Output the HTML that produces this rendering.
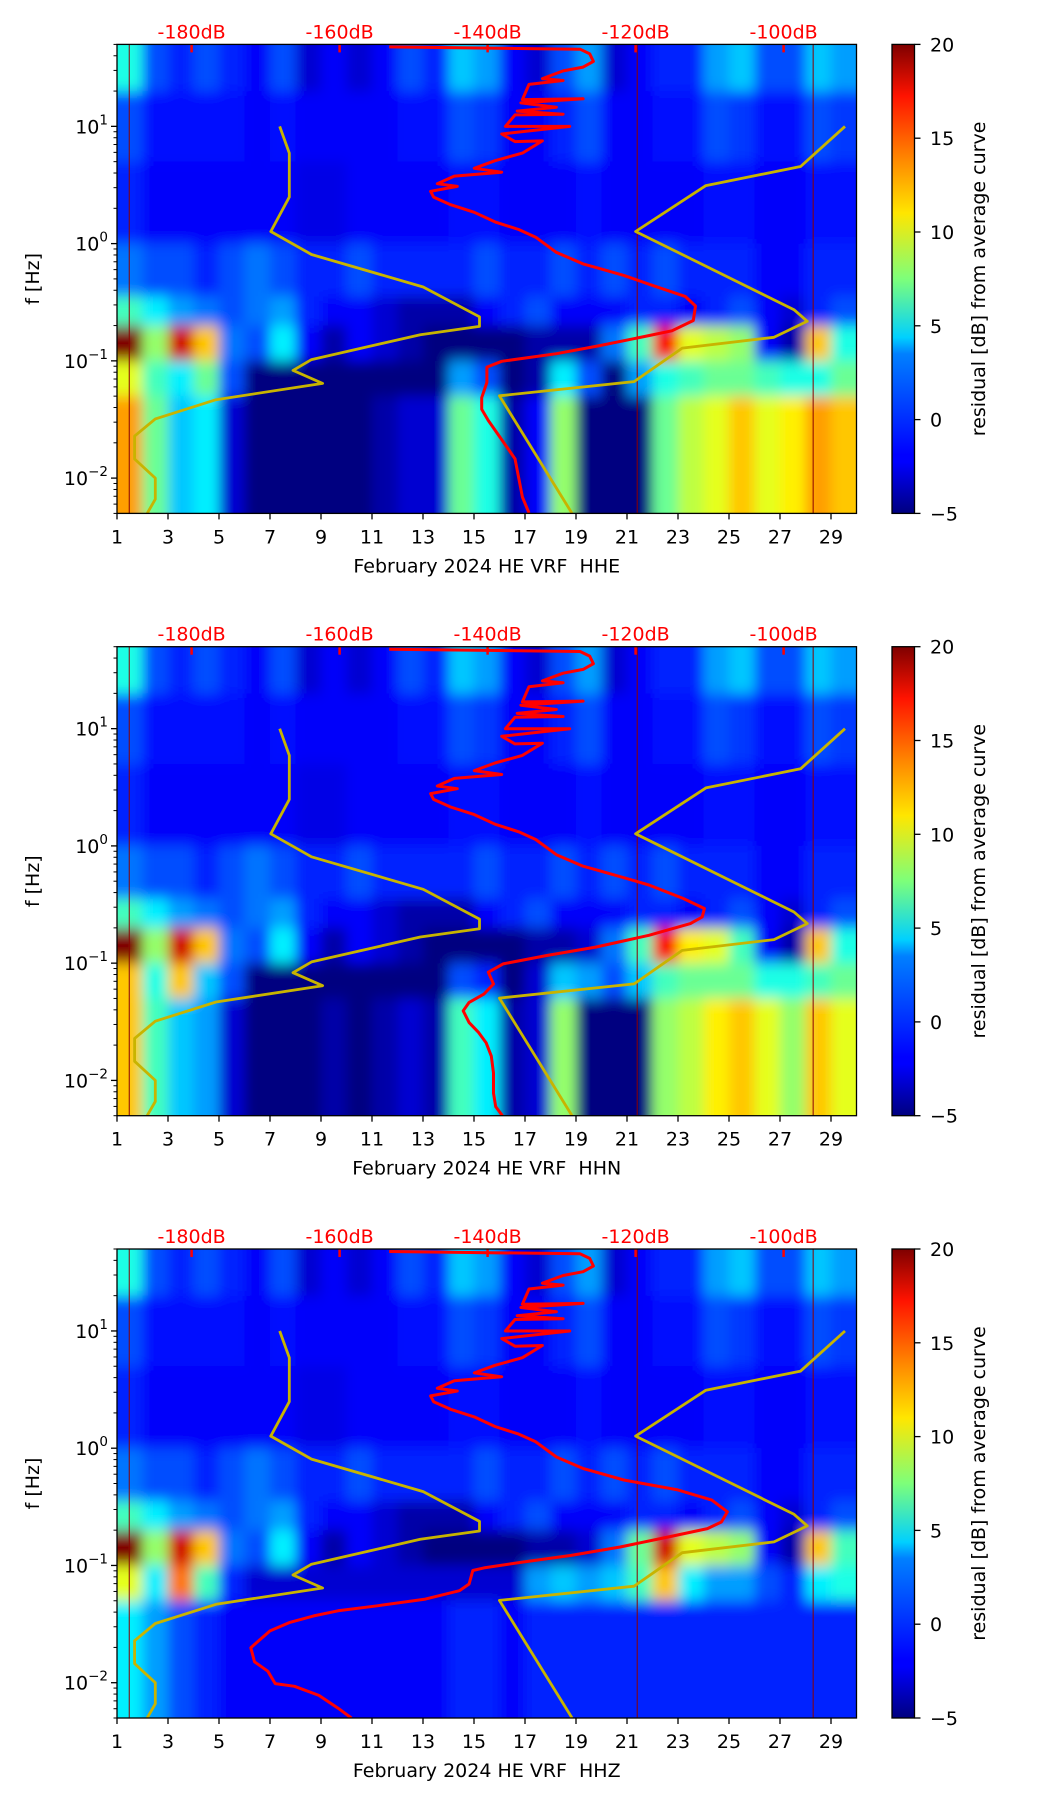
<!DOCTYPE html>
<html><head><meta charset="utf-8"><style>
body{margin:0;background:#fff;}
svg{display:block;font-family:"DejaVu Sans","Liberation Sans",sans-serif;}
</style></head><body>
<svg id="fig" width="1052" height="1806" viewBox="0 0 1052 1806" xmlns="http://www.w3.org/2000/svg">
<defs>
<filter id="blur" x="-5%" y="-5%" width="110%" height="110%"><feGaussianBlur stdDeviation="6 7"/></filter>
<linearGradient id="jetgrad" x1="0" y1="1" x2="0" y2="0">
<stop offset="0" stop-color="#00007f"/><stop offset="0.11" stop-color="#0000ff"/><stop offset="0.125" stop-color="#0000ff"/>
<stop offset="0.34" stop-color="#0080ff"/><stop offset="0.375" stop-color="#00d0ff"/><stop offset="0.5" stop-color="#7dff7a"/>
<stop offset="0.64" stop-color="#ffe600"/><stop offset="0.75" stop-color="#ff8c00"/><stop offset="0.89" stop-color="#ff1300"/><stop offset="1" stop-color="#7f0000"/>
</linearGradient>
</defs>
</svg>
<script>
// ---- shared data ----
const days = [1,2,3,4,5,6,7,8,9,10,11,12,13,14,15,16,17,18,19,20,21,22,23,24,25,26,27,28,29];
const xTicks = [1,3,5,7,9,11,13,15,17,19,21,23,25,27,29];
const dbTicks = [-180,-160,-140,-120,-100];
const cbTicks = [-5,0,5,10,15,20];
const bandEdges = [1.75,1.3,0.7,0.0,-0.45,-0.7,-1.0,-1.3,-2.35];
const b0a = [5,0,-1,0,-1,-2,0,-3,-2,-3,-2,0,-1,3,2,-2,-3,0,2,-3,-2,-1,-1,2,3,0,0,3,2];
const b0b = [0,-1.5,-1.5,-1.5,-1.5,-2,-1.5,-2,-2,-2,-2,-1.5,-1.5,0,-0.5,-2,-2,-1,0,-2,-2,-1.5,-1.5,0,-0.5,-1.5,-1.5,0,-0.5];
const b1 = [-1,-2,-2,-2,-2,-2,-2,-2.5,-2.5,-2,-2,-2,-2,-1.5,-1.5,-2,-2,-2,-1.5,-2,-2,-2,-2,-1.5,-1.5,-2,-2,-1.5,-1.5];
const b2 = [1,0,0,-1,0,1,0,-1,-1,0,-1,-1,-1,-1,0,-1,-1,0,-1,0,-1,0,-1,-1,-1,-2,-2,-1,-1];
const b3 = [6,4,2,1,0,1,2,-1,-2,-2,-3,-4,-4,-4,-2,-1,0,-2,-2,-2,-1,-1,-2,-1,0,-2,-3,-1,0];
// per-plot bands
const b4E = [20,8,18,12,1,0,4,-2,-4,-2,-3,-4,-5,-5,-5,-5,-4,-4,-4,1,6,17,10,9,8,-2,-4,12,5];
const b5E = [10,6,4,7,0,-5,-5,-5,-5,-5,-5,-5,-5,2,0,-5,-4,4,0,-5,2,5,6,7,7,6,5,5,7];
const b6E = [13,7,3,4,-3,-5,-5,-5,-5,-5,-4,-3,-3,7,5,-4,-2,8,-5,-5,-5,7,9,10,12,10,11,13,12];
const b4N = [20,8,18,12,1,0,4,-2,-4,-2,-3,-4,-5,-5,-5,-5,-4,-4,-3,1,6,17,11,10,6,-2,-4,12,5];
const b5N = [12,5,12,3,0,-5,-5,-5,-5,-5,-5,-5,-5,0,-1,-5,-3,3,2,0,3,6,7,7,7,5,5,6,7];
const b6N = [12,6,3,2,-3,-5,-5,-5,-4,-5,-4,-3,-4,6,4,-4,-3,8,-5,-5,-5,8,9,11,12,10,8,12,10];
const b4Z = [20,8,18,12,1,0,4,-2,-4,-2,-3,-4,-5,-5,-5,-5,-4,-4,-3,1,7,18,10,9,8,-2,-4,12,6];
const b5Z = [10,4,14,6,-1,-3,-3,-3,-3,-3,-3,-3,-3,-3,-3,-3,2,3,2,3,6,12,4,2,2,0,-1,4,5];
const b6Z = [4,2,0,-1,-2,-2,-2,-2,-2,-2,-2,-2,-2,-1,-1,-2,-1,-1,-1,-1,-1,-1,-1,-1,-1,-1,-1,-1,-1];
// noise models (dB, log10 f)
const nlnmDb = [-168.1,-166.8,-166.8,-169.3,-163.8,-148.7,-141.1,-141.1,-149.1,-163.8,-166.3,-162.3,-176.7,-184.9,-187.7,-187.7,-184.9,-184.9,-186];
const nlnmLf = [1.0,0.772,0.397,0.103,-0.093,-0.370,-0.624,-0.706,-0.777,-0.989,-1.081,-1.192,-1.331,-1.495,-1.642,-1.837,-2.0,-2.18,-2.3];
const nhnmDb = [-91.7,-97.7,-110.5,-120.0,-98.6,-96.8,-101.3,-113.7,-120.2,-138.4,-128.6];
const nhnmLf = [1.0,0.658,0.495,0.103,-0.564,-0.663,-0.799,-0.891,-1.177,-1.298,-2.3];
// mean PSD curves
const redUpDb = [-153.3,-127.5,-126.2,-125.7,-127.1,-129.8,-132.6,-129.8,-134.4,-135.3,-127.1,-135.5,-130.7,-136.0,-129.8,-136.3,-137.6,-128.9,-138.1,-136.3,-132.6,-135.3,-139.0,-141.8,-138.1,-144.5,-146.8,-144.1,-147.7,-147.3,-145.0,-141.8,-139.0,-135.8,-133.5,-130.7,-127.1,-125.2,-121.6];
const redUpLf = [1.678,1.658,1.619,1.554,1.505,1.473,1.407,1.391,1.358,1.228,1.235,1.2,1.163,1.13,1.104,1.098,1.0,1.0,0.935,0.870,0.876,0.772,0.707,0.642,0.609,0.576,0.511,0.488,0.446,0.397,0.332,0.267,0.185,0.120,0.055,-0.075,-0.173,-0.206,-0.271];
const redEDb = [-117.9,-113.3,-111.9,-112.2,-115.1,-118.8,-125.2,-130.7,-138.1,-140.1,-140.1,-140.8,-140.8,-139.9,-138.1,-136.3,-135.8,-135.3,-134.4];
const redELf = [-0.352,-0.450,-0.532,-0.656,-0.744,-0.792,-0.874,-0.939,-1.004,-1.053,-1.184,-1.314,-1.412,-1.509,-1.672,-1.835,-1.998,-2.161,-2.298];
const redNDb = [-118.2,-113.6,-110.7,-111.0,-112.6,-118.2,-125.4,-132.0,-137.9,-139.9,-139.2,-140.5,-142.5,-143.3,-142.5,-141.2,-140.2,-139.5,-139.2,-139.2,-138.9,-138.0];
const redNLf = [-0.333,-0.448,-0.534,-0.606,-0.663,-0.762,-0.863,-0.935,-1.006,-1.077,-1.178,-1.264,-1.335,-1.406,-1.507,-1.592,-1.678,-1.793,-1.936,-2.108,-2.223,-2.301];
const redZDb = [-114.3,-109.7,-107.6,-108.4,-110.3,-115.6,-122.1,-128.7,-135.3,-140.5,-142.0,-142.5,-143.8,-148.4,-154.9,-160.2,-163.5,-166.8,-169.4,-172.0,-171.5,-169.7,-168.7,-166.1,-162.8,-160.2,-158.4];
const redZLf = [-0.356,-0.443,-0.542,-0.629,-0.686,-0.757,-0.843,-0.914,-0.971,-1.021,-1.043,-1.158,-1.215,-1.287,-1.344,-1.387,-1.430,-1.487,-1.558,-1.701,-1.822,-1.902,-2.008,-2.031,-2.108,-2.217,-2.301];
const redLineDays = [1.48,21.4,28.3];

const NS = "http://www.w3.org/2000/svg";
const svg = document.getElementById('fig');
const X0 = 117, X1 = 856.5, H = 469, LFTOP = 1.699, LFBOT = -2.301, FS = 19;
function xDay(d){ return X0 + (d-1)*(X1-X0)/29; }
function xDb(db){ return 191.6 + (db+180)*7.4; }
function mk(tag, attrs, parent){ const e=document.createElementNS(NS,tag); for(const k in attrs) e.setAttribute(k,attrs[k]); (parent||svg).appendChild(e); return e; }
function jet(v){
  const t=Math.max(0,Math.min(1,(v+5)/25));
  const c=x=>Math.round(255*Math.max(0,Math.min(1,x)));
  return `rgb(${c(1.5-Math.abs(4*t-3))},${c(1.5-Math.abs(4*t-2))},${c(1.5-Math.abs(4*t-1))})`;
}

function drawPlot(idx, top, chan, b4, b5, b6, lowDb, lowLf){
  const yLf = lf => top + (LFTOP-lf)*(H/(LFTOP-LFBOT));
  const g = mk('g',{});
  
  
  const cp = mk('clipPath',{id:'clip'+idx}, g);
  mk('rect',{x:X0,y:top,width:X1-X0,height:H}, cp);
  const clipG = mk('g',{'clip-path':`url(#clip${idx})`}, g);
  
  
  const heat = mk('g',{filter:'url(#blur)'}, clipG);
  
  
  mk('rect',{x:X0-25,y:top-25,width:X1-X0+50,height:H+50,fill:jet(-2)}, heat);
  const bands=[b0a,b0b,b1,b2,b3,b4,b5,b6];
  bands.forEach((arr,k)=>{
    let y0=yLf(bandEdges[k]), y1=yLf(bandEdges[k+1]);
    if(k===0) y0-=25; if(k===bands.length-1) y1+=25;
    days.forEach((d,i)=>{
      let xa=xDay(d), xb=xDay(d+1);
      if(i===0) xa-=25; if(i===days.length-1) xb+=25;
      const r = mk('rect',{x:xa,y:y0,width:xb-xa+0.6,height:y1-y0+0.6,fill:jet(arr[i])}, heat);
      
      
    });
  });
  redLineDays.forEach(d=>{
    const l = mk('line',{x1:xDay(d),x2:xDay(d),y1:top,y2:top+H,stroke:'#8b0000','stroke-width':1}, clipG);
    
    
  });
  const pts=(dbs,lfs)=>dbs.map((v,i)=>xDb(v).toFixed(1)+','+yLf(lfs[i]).toFixed(1)).join(' ');
  const nl = mk('polyline',{points:pts(nlnmDb,nlnmLf),fill:'none',stroke:'#c8b400','stroke-width':2.8,'stroke-linejoin':'round'}, clipG);
  
  
  const nh = mk('polyline',{points:pts(nhnmDb,nhnmLf),fill:'none',stroke:'#c8b400','stroke-width':2.8,'stroke-linejoin':'round'}, clipG);
  
  
  const rd = mk('polyline',{points:pts(redUpDb.concat(lowDb),redUpLf.concat(lowLf)),fill:'none',stroke:'#ff0000','stroke-width':3,'stroke-linejoin':'round'}, clipG);
  
  
  dbTicks.forEach(v=>{
    const t = mk('line',{x1:xDb(v),x2:xDb(v),y1:top,y2:top+8,stroke:'#ff0000','stroke-width':2.5}, g);
    
    
    const tx = mk('text',{x:xDb(v),y:top-6,'text-anchor':'middle','font-size':FS,fill:'#ff0000'}, g);
    tx.textContent = v+'dB';
    
    
  });
  const fr = mk('rect',{x:X0,y:top,width:X1-X0,height:H,fill:'none',stroke:'#000','stroke-width':1.3}, g);
  
  
  xTicks.forEach(d=>{
    const t = mk('line',{x1:xDay(d),x2:xDay(d),y1:top+H,y2:top+H+6,stroke:'#000','stroke-width':1.3}, g);
    
    
    const tx = mk('text',{x:xDay(d),y:top+H+30,'text-anchor':'middle','font-size':FS,fill:'#000'}, g);
    tx.textContent = d;
    
    
  });
  for(let e=-3;e<=1;e++){
    for(let m=1;m<10;m++){
      const lf = e+Math.log10(m);
      if(lf<LFBOT-0.001||lf>LFTOP) continue;
      const y=yLf(lf);
      const t = mk('line',{x1:X0,x2:X0-(m===1?6:3.5),y1:y,y2:y,stroke:'#000','stroke-width':m===1?1.3:1}, g);
      
      
    }
    if(e>=-2){
      const y=yLf(e);
      const tx = mk('text',{x:X0-9,y:y+7,'text-anchor':'end','font-size':FS,fill:'#000'}, g);
      tx.innerHTML = `10<tspan dy="-9" font-size="13.5">${e<0?'\u2212'+(-e):e}</tspan>`;
      
      
    }
  }
  const yl = mk('text',{x:0,y:0,transform:`translate(39,${top+H/2}) rotate(-90)`,'text-anchor':'middle','font-size':FS,fill:'#000'}, g);
  yl.textContent='f [Hz]';
  
  
  const xl = mk('text',{x:(X0+X1)/2,y:top+H+59,'text-anchor':'middle','font-size':FS,fill:'#000'}, g);
  xl.textContent='February 2024 HE VRF \u00a0'+chan;
  
  
  const cb = mk('rect',{x:892,y:top,width:22.5,height:H,fill:'url(#jetgrad)',stroke:'#000','stroke-width':1.3}, g);
  
  
  cbTicks.forEach(v=>{
    const y = top + H - (v+5)/25*H;
    const t = mk('line',{x1:914.5,x2:920.5,y1:y,y2:y,stroke:'#000','stroke-width':1.3}, g);
    
    
    const tx = mk('text',{x:930,y:y+7,'font-size':FS,fill:'#000'}, g);
    tx.textContent = v<0?'\u2212'+(-v):String(v);
    
    
  });
  const cl = mk('text',{x:0,y:0,transform:`translate(985,${top+H/2}) rotate(-90)`,'text-anchor':'middle','font-size':FS,fill:'#000'}, g);
  cl.textContent='residual [dB] from average curve';
  
  
}
drawPlot(1, 44.4, 'HHE', b4E, b5E, b6E, redEDb, redELf);
drawPlot(2, 646.7, 'HHN', b4N, b5N, b6N, redNDb, redNLf);
drawPlot(3, 1249, 'HHZ', b4Z, b5Z, b6Z, redZDb, redZLf);
</script>
</body></html>
